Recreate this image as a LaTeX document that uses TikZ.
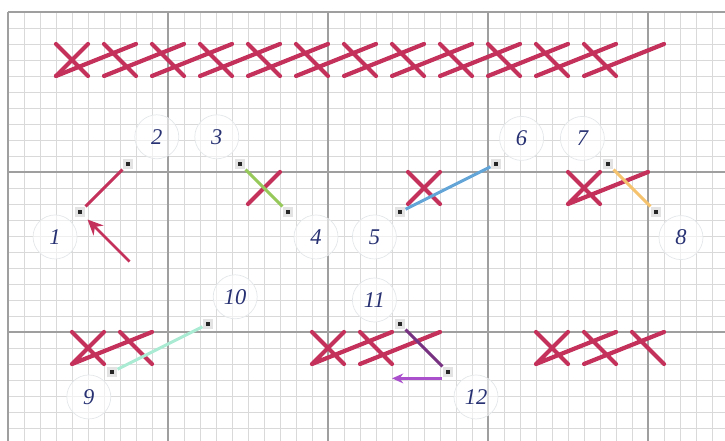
\documentclass[tikz,border=0pt]{standalone}
\usepackage{fontspec}
\setmainfont{Liberation Serif}
\usetikzlibrary{arrows.meta}

\definecolor{thread}{RGB}{196,50,92}
\definecolor{navy}{RGB}{40,50,115}
\definecolor{leaf}{RGB}{150,200,90}
\definecolor{sky}{RGB}{100,165,215}
\definecolor{honey}{RGB}{245,195,110}
\definecolor{mint}{RGB}{170,235,212}
\definecolor{plum}{RGB}{120,50,130}
\definecolor{lilac}{RGB}{170,80,205}

\begin{document}
\begin{tikzpicture}[x=0.4cm,y=-0.4cm,
	minor/.style={gray!30,line width=0.6pt},
	major/.style={gray!75,line width=1.2pt},
	stitch/.style={thread,line width=3pt,line cap=round},
	move/.style={line width=2.2pt},
	hole/.style={rectangle,inner sep=0pt,minimum size=7.5pt,fill=gray!22,
		path picture={\fill[black!85] ([shift={(-1.5pt,-1.5pt)}]path picture bounding box.center) rectangle ++(3pt,3pt);}},
	numlbl/.style={circle,minimum size=1.1cm,draw=cyan!10!gray!22,line width=0.5pt,fill=white,fill opacity=0.6,text opacity=1,
		text=navy,font=\fontsize{16}{18}\selectfont\itshape}]
	\useasboundingbox (-0.5,-0.75) rectangle (44.8125,26.8125);
	% fabric grid
	\foreach \i in {0,...,44}{\draw[minor] (\i,0) -- (\i,26.8125);}
	\foreach \j in {0,...,26}{\draw[minor] (0,\j) -- (44.8125,\j);}
	\foreach \i in {0,10,...,40}{\draw[major] (\i,0) -- (\i,26.8125);}
	\foreach \j in {0,10,20}{\draw[major] (0,\j) -- (44.8125,\j);}
	% top row
	\foreach \k in {0,...,11}{
		\draw[stitch] (3+3*\k,2) -- (5+3*\k,4);
		\draw[stitch] (3+3*\k,4) -- (8+3*\k,2);}
	\draw[stitch] (3,4) -- (5,2);
	% middle row
	\draw[stitch] (15,12) -- (17,10);
	\draw[stitch] (25,10) -- (27,12) (25,12) -- (27,10);
	\draw[stitch] (35,10) -- (37,12) (35,12) -- (37,10) (35,12) -- (40,10);
	% bottom row
	\draw[stitch] (4,20) -- (6,22) (7,20) -- (9,22) (4,22) -- (6,20) (4,22) -- (9,20);
	\draw[stitch] (19,20) -- (21,22) (22,20) -- (24,22) (19,22) -- (21,20) (19,22) -- (24,20) (22,22) -- (27,20);
	\draw[stitch] (33,20) -- (35,22) (36,20) -- (38,22) (39,20) -- (41,22)
		(33,22) -- (35,20) (33,22) -- (38,20) (36,22) -- (41,20);
	% needle holes and numbers
	\foreach \n/\x/\y/\dx/\dy in {1/4.5/12.5/-1.56/1.56, 2/7.5/9.5/1.8/-1.7, 3/14.5/9.5/-1.45/-1.7,
		4/17.5/12.5/1.75/1.56, 5/24.5/12.5/-1.6/1.56, 6/30.5/9.5/1.6/-1.6, 7/37.5/9.5/-1.6/-1.6,
		8/40.5/12.5/1.56/1.6, 9/6.5/22.5/-1.45/1.56, 10/12.5/19.5/1.7/-1.7, 11/24.5/19.5/-1.6/-1.5,
		12/27.5/22.5/1.75/1.56}{
		\node[hole] (p\n) at (\x,\y) {};
		\node[numlbl] (l\n) at ([shift={(\dx,\dy)}]p\n) {\n};}
	% thread moves
	\draw[move,thread] (p1) -- (p2);
	\draw[move,leaf] (p3) -- (p4);
	\draw[move,sky] (p5) -- (p6);
	\draw[move,honey] (p7) -- (p8);
	\draw[move,mint] (p9) -- (p10);
	\draw[move,plum] (p11) -- (p12);
	\coordinate (a1) at (7.6,15.6);
	\draw[thread,line width=2pt,-{Stealth[length=11pt,width=10pt]},shorten >=2pt] (a1) -- (p1);
	\coordinate (b0) at (27.1,22.9);
	\coordinate (b1) at (24,22.9);
	\draw[lilac,line width=1.6pt,-{Stealth[length=8pt,width=7pt]}] (b0) -- (b1);
\end{tikzpicture}
\end{document}
